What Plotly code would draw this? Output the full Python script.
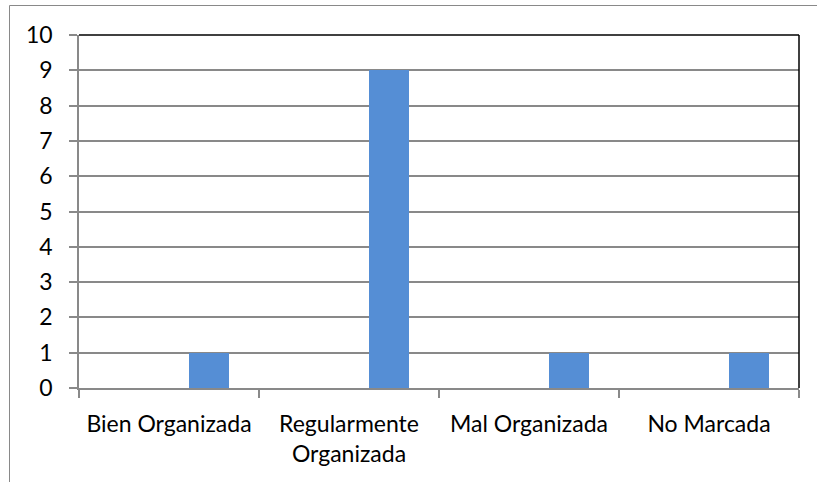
import plotly.graph_objects as go

categories = ["Bien Organizada", "Regularmente<br>Organizada", "Mal Organizada", "No Marcada"]
values = [1, 9, 1, 1]
y_ticks = [0, 1, 2, 3, 4, 5, 6, 7, 8, 9, 10]

W, H = 817, 482
ml, mr, mt, mb = 79, 18, 35, 94
pw, ph = W - ml - mr, H - mt - mb

grey = "#898989"
font = dict(family="Lato, Carlito, Calibri, sans-serif", size=23, color="#000000")

fig = go.Figure()
fig.add_trace(go.Bar(
    x=categories, y=values,
    width=2/9, offset=1/9,
    marker=dict(color="#558ED5", line=dict(width=0)),
    showlegend=False,
))

def px_x(x):
    return (x - ml) / pw

def px_y(y):
    return (H - mb - y) / ph

shapes = [
    dict(type="line", xref="paper", yref="paper", x0=0, x1=1, y0=1, y1=1,
         line=dict(color="#000000", width=1.5)),
    dict(type="line", xref="paper", yref="paper", x0=1, x1=1, y0=0, y1=1,
         line=dict(color="#000000", width=1.5)),
    dict(type="line", xref="paper", yref="paper", x0=px_x(9.5), x1=px_x(W), y0=px_y(5.5), y1=px_y(5.5),
         line=dict(color=grey, width=1)),
    dict(type="line", xref="paper", yref="paper", x0=px_x(9.5), x1=px_x(9.5), y0=px_y(5.5), y1=px_y(H),
         line=dict(color=grey, width=1)),
]

fig.update_layout(
    width=W, height=H,
    margin=dict(l=ml, r=mr, t=mt, b=mb, pad=0),
    paper_bgcolor="white", plot_bgcolor="white",
    font=font,
    bargap=0,
    shapes=shapes,
    xaxis=dict(
        type="category", range=[-0.5, 3.5],
        showline=True, linecolor=grey, linewidth=1.5,
        ticks="outside", tickson="boundaries", ticklen=8, tickcolor=grey, tickwidth=1.5,
        showgrid=False, tickfont=font, ticklabelstandoff=15,
    ),
    yaxis=dict(
        range=[0, 10], tickvals=y_ticks, ticktext=[str(v) for v in y_ticks],
        showline=True, linecolor=grey, linewidth=1.5,
        ticks="outside", ticklen=8, tickcolor=grey, tickwidth=1.5,
        showgrid=True, gridcolor=grey, gridwidth=1.5,
        zeroline=False, tickfont=font, ticklabelstandoff=12,
    ),
)

fig.write_html(
    "out.html",
    config={"displayModeBar": False},
    post_script="document.body.style.margin='0';document.body.style.padding='0';",
)
